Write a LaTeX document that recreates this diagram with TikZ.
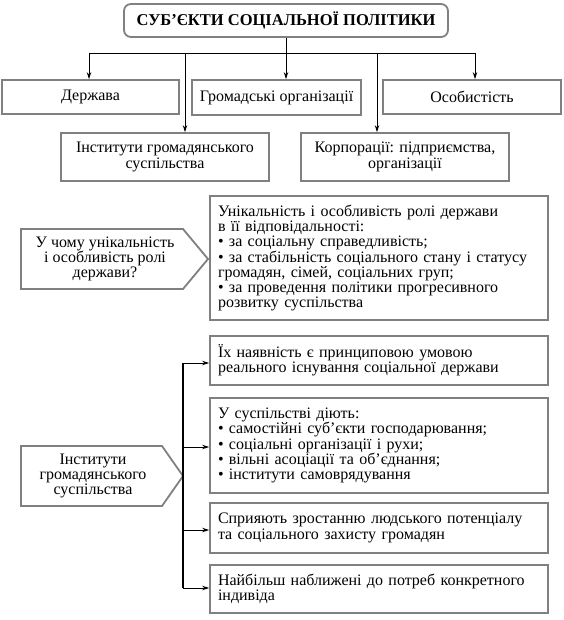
\documentclass[tikz,border=0pt]{standalone}
\usepackage{fontspec}
\setmainfont{Liberation Serif}
\usetikzlibrary{arrows.meta}
\definecolor{boxgray}{RGB}{128,128,128}
\tikzset{
  txt/.style={font=\fontsize{16}{15.3}\selectfont},
  box/.style={draw=boxgray, line width=1.8pt, rectangle, inner sep=0pt, txt},
  lbox/.style={box, align=left, text width=#1},
  conn/.style={line width=0.8pt, black},
  arr/.style={conn, -{Stealth[length=7pt,width=4.5pt]}},
  pent/.style={draw=boxgray, line width=1.8pt, line join=miter},
  ptext/.style={align=center, inner sep=0pt, txt},
}
\begin{document}
\begin{tikzpicture}[x=1pt,y=-1pt]
\useasboundingbox (0,0) rectangle (563,620);
% title
\node[box, rounded corners=7pt, minimum width=324pt, minimum height=33pt, font=\fontsize{16.5}{18}\selectfont\bfseries] (title) at (286,20.5) {СУБ’ЄКТИ СОЦІАЛЬНОЇ ПОЛІТИКИ};
% level 1
\node[box, minimum width=177pt, minimum height=34pt] (derzh) at (90.5,97) {Держава};
\node[box, minimum width=169pt, minimum height=35pt] (grom) at (276.5,97.5) {Громадські організації};
\node[box, minimum width=178pt, minimum height=34pt] (osob) at (472,97) {Особистість};
\node[box, align=center, minimum width=208pt, minimum height=48pt] (inst) at (165,157) {Інститути громадянського\\суспільства};
\node[box, align=center, minimum width=208pt, minimum height=48pt] (korp) at (405,157) {Корпорації: підприємства,\\організації};
% bus
\coordinate (t1) at (89,53);
\coordinate (t2) at (185,53);
\coordinate (t3) at (286,53);
\coordinate (t4) at (377,53);
\coordinate (t5) at (475,53);
\draw[conn] (title.south) -- (t3);
\draw[conn] (t1) -- (t5);
\draw[arr] (t1) -- (t1 |- derzh.north);
\draw[arr] (t2) -- (t2 |- inst.north);
\draw[arr] (t3) -- (t3 |- grom.north);
\draw[arr] (t4) -- (t4 |- korp.north);
\draw[arr] (t5) -- (t5 |- osob.north);
% section 2
\draw[pent] (21,229) -- (183,229) -- (208,259) -- (183,289) -- (21,289) -- cycle;
\node[ptext] (q1) at (105,259) {У чому унікальність\\і особливість ролі\\держави?};
\node[lbox=322pt, minimum width=336pt, minimum height=124pt, inner xsep=8pt] (u1) at (379,258) {Унікальність і особливість ролі держави\\в її відповідальності:\\• за соціальну справедливість;\\• за стабільність соціального стану і статусу\\громадян, сімей, соціальних груп;\\• за проведення політики прогресивного\\розвитку суспільства};
% section 3
\node[lbox=322pt, minimum width=336pt, minimum height=49pt, inner xsep=8pt] (b1) at (379,360.5) {Їх наявність є принциповою умовою\\реального існування соціальної держави};
\node[lbox=322pt, minimum width=336pt, minimum height=95pt, inner xsep=8pt] (b2) at (379,445.5) {У суспільстві діють:\\• самостійні суб’єкти господарювання;\\• соціальні організації і рухи;\\• вільні асоціації та об’єднання;\\• інститути самоврядування};
\node[lbox=322pt, minimum width=336pt, minimum height=50pt, inner xsep=8pt] (b3) at (379,528) {Сприяють зростанню людського потенціалу\\та соціального захисту громадян};
\node[lbox=322pt, minimum width=336pt, minimum height=48pt, inner xsep=8pt] (b4) at (379,589) {Найбільш наближені до потреб конкретного\\індивіда};
\draw[pent] (21,446) -- (162,446) -- (183,476) -- (162,506) -- (21,506) -- cycle;
\node[ptext] (q2) at (93,476) {Інститути\\громадянського\\суспільства};
\coordinate (s1) at (183,363);
\coordinate (s4) at (183,588);
\draw[line width=1.3pt] (s1) -- (s4);
\draw[arr] (s1) -- (s1 -| b1.west);
\draw[arr] (183,447) -- (b2.west |- 0,447);
\draw[arr] (183,530) -- (b3.west |- 0,530);
\draw[arr] (s4) -- (s4 -| b4.west);
\end{tikzpicture}
\end{document}
